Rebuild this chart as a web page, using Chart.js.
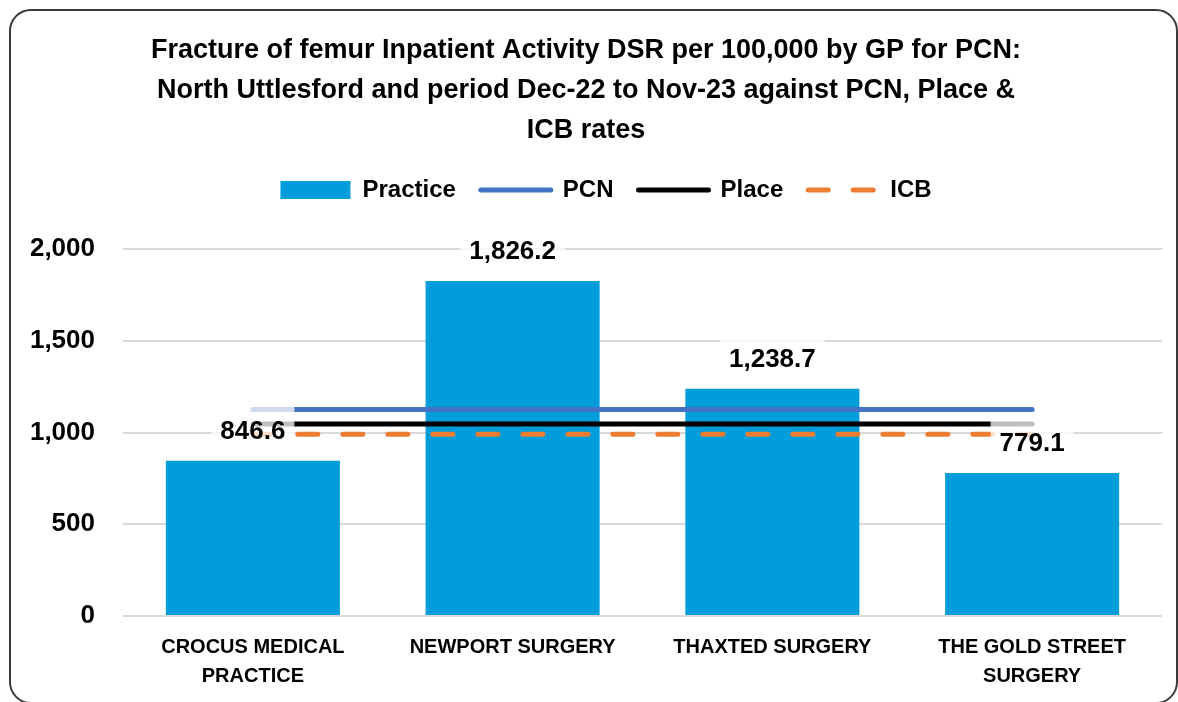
<!DOCTYPE html>
<html>
<head>
<meta charset="utf-8">
<script src="https://cdn.jsdelivr.net/npm/chart.js@4.4.1/dist/chart.umd.min.js"></script>
<style>
  html, body { margin: 0; padding: 0; background: #ffffff; overflow: hidden; }
  #wrap { position: relative; width: 1178px; height: 702px; overflow: hidden; }
  #frame { position: absolute; left: 9px; top: 9px; width: 1165px; height: 691px;
           border: 2px solid #3a3a3a; border-radius: 22px; box-sizing: content-box; }
  #c { position: absolute; left: 0; top: 0; }
</style>
</head>
<body>
<div id="wrap">
  <div id="frame"></div>
  <canvas id="c" width="1178" height="702"></canvas>
</div>
<script>
// ---- data ----
const categories = [['CROCUS MEDICAL', 'PRACTICE'], 'NEWPORT SURGERY', 'THAXTED SURGERY', ['THE GOLD STREET', 'SURGERY']];
const practiceValues = [846.6, 1826.2, 1238.7, 779.1];
const pcnValues = [1125, 1125, 1125, 1125];
const placeValues = [1046, 1046, 1046, 1046];
const icbValues = [991, 991, 991, 991];
const seriesNames = ['Practice', 'PCN', 'Place', 'ICB'];
const titleLines = [
  'Fracture of femur Inpatient Activity DSR per 100,000 by GP for PCN:',
  'North Uttlesford and period Dec-22 to Nov-23 against PCN, Place &',
  'ICB rates'
];
const yMin = 0, yMax = 2000, yStep = 500;

// ---- styles ----
const FONT = "'Liberation Sans', Arial, sans-serif";
const barColor = '#009DDA';
const pcnColor = '#4472C4';
const placeColor = '#000000';
const icbColor = '#ED7D31';

const fmt1 = v => v.toLocaleString('en-US', { minimumFractionDigits: 1, maximumFractionDigits: 1 });

const dataLabelPlugin = {
  id: 'barDataLabels',
  afterDatasetsDraw(chart) {
    const meta = chart.getDatasetMeta(0);
    const ctx = chart.ctx;
    ctx.save();
    ctx.font = 'bold 26px ' + FONT;
    ctx.textAlign = 'center';
    ctx.textBaseline = 'middle';
    meta.data.forEach((el, i) => {
      const txt = fmt1(chart.data.datasets[0].data[i]);
      const w = ctx.measureText(txt).width;
      const cy = el.y - 29;
      ctx.fillStyle = 'rgba(255,255,255,0.75)';
      ctx.fillRect(el.x - w / 2 - 9, cy - 25, w + 18, 50);
      ctx.fillStyle = '#000000';
      ctx.fillText(txt, el.x, cy);
    });
    ctx.restore();
  }
};

const legendShiftPlugin = {
  id: 'legendShift',
  afterLayout(chart) {
    if (chart.legend) { chart.legend.left += 20; chart.legend.right += 20; }
  }
};

new Chart(document.getElementById('c'), {
  type: 'bar',
  data: {
    labels: categories,
    datasets: [
      { type: 'bar', label: seriesNames[0], data: practiceValues, backgroundColor: barColor,
        borderWidth: 0, barPercentage: 0.67, categoryPercentage: 1.0, order: 2 },
      { type: 'line', label: seriesNames[1], data: pcnValues, borderColor: pcnColor, backgroundColor: pcnColor,
        borderWidth: 5, borderCapStyle: 'round', pointRadius: 0, pointHoverRadius: 0, fill: false, order: 1 },
      { type: 'line', label: seriesNames[2], data: placeValues, borderColor: placeColor, backgroundColor: placeColor,
        borderWidth: 5, borderCapStyle: 'round', pointRadius: 0, pointHoverRadius: 0, fill: false, order: 1 },
      { type: 'line', label: seriesNames[3], data: icbValues, borderColor: icbColor, backgroundColor: icbColor,
        borderWidth: 5, borderCapStyle: 'round', borderDash: [20, 25], pointRadius: 0, pointHoverRadius: 0, fill: false, order: 1 }
    ]
  },
  options: {
    responsive: false,
    animation: false,
    devicePixelRatio: 1,
    layout: { padding: { left: 10, right: 16, top: 0, bottom: 0 } },
    plugins: {
      tooltip: { enabled: false },
      title: {
        display: true,
        text: titleLines,
        color: '#000000',
        font: { family: FONT, size: 27, weight: 'bold', lineHeight: '40px' },
        padding: { top: 31, bottom: 2 }
      },
      subtitle: {
        display: true,
        text: '',
        weight: 500,
        font: { size: 10, lineHeight: '10px' },
        padding: { top: 27, bottom: 0 }
      },
      legend: {
        display: true,
        position: 'top',
        labels: {
          color: '#000000',
          font: { family: FONT, size: 24, weight: 'bold' },
          usePointStyle: true,
          pointStyleWidth: 70,
          boxHeight: 18,
          padding: 25,
          generateLabels(chart) {
            const items = Chart.defaults.plugins.legend.labels.generateLabels(chart);
            items.forEach(it => {
              const ds = chart.data.datasets[it.datasetIndex];
              if (ds.type === 'line') {
                it.pointStyle = 'line';
                it.strokeStyle = ds.borderColor;
                it.fillStyle = ds.borderColor;
                it.lineWidth = 5;
                it.lineCap = 'round';
                it.lineDash = ds.borderDash || [];
              } else {
                it.pointStyle = 'rect';
                it.fillStyle = ds.backgroundColor;
                it.lineWidth = 0;
              }
              it.fontColor = '#000000';
            });
            return items.sort((a, b) => a.datasetIndex - b.datasetIndex);
          }
        }
      }
    },
    scales: {
      x: {
        grid: { display: false, drawTicks: false },
        border: { display: false },
        ticks: {
          color: '#000000',
          font: { family: FONT, size: 20, weight: 'bold', lineHeight: '29px' },
          padding: 17,
          autoSkip: false,
          maxRotation: 0
        },
        afterFit(s) { s.height = 86; }
      },
      y: {
        min: yMin, max: yMax,
        grid: { color: '#D9D9D9', lineWidth: 2, drawTicks: false },
        border: { display: false },
        ticks: {
          stepSize: yStep,
          color: '#000000',
          font: { family: FONT, size: 26, weight: 'bold' },
          padding: 28,
          callback: v => Number(v).toLocaleString('en-US')
        },
        afterFit(s) { s.width = 113; }
      }
    }
  },
  plugins: [dataLabelPlugin, legendShiftPlugin]
});
</script>
</body>
</html>
